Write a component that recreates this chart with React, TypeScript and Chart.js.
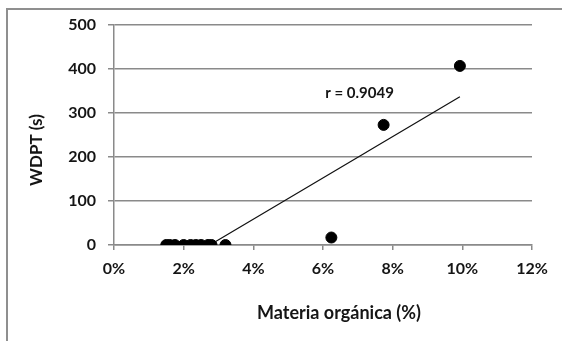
import React, { useEffect, useRef } from "react";
import { Chart, registerables } from "chart.js";

Chart.register(...registerables);

// Data
const organicMatter = [1.5, 1.6, 1.75, 2.0, 2.2, 2.35, 2.5, 2.7, 2.8, 3.2, 6.24, 7.74, 9.93];
const wdptValues = [0, 0, 0, 0, 0, 0, 0, 0, 0, 0, 17, 273, 407];
const trendX = [2.75, 9.93];
const trendY = [0, 337];
const xTickValues = [0, 2, 4, 6, 8, 10, 12];
const yTickValues = [0, 100, 200, 300, 400, 500];
const xTitle = "Materia orgánica (%)";
const yTitle = "WDPT (s)";
const rLabel = "r = 0.9049";
const rLabelAt = [7.05, 345];

const FONT = "Lato, 'Open Sans', sans-serif";
const TEXT = "#151515";
const GRID = "#8a8a8a";

const textPlugin = {
  id: "extraText",
  afterDraw(chart: any) {
    const { ctx, scales } = chart;
    const xs = scales.x;
    const ys = scales.y;
    ctx.save();
    ctx.fillStyle = TEXT;
    ctx.textAlign = "center";
    ctx.textBaseline = "middle";
    // r annotation
    ctx.font = `bold 15px ${FONT}`;
    ctx.fillText(rLabel, xs.getPixelForValue(rLabelAt[0]), ys.getPixelForValue(rLabelAt[1]));
    // x title
    ctx.font = `bold 18px ${FONT}`;
    ctx.fillText(xTitle, 339, 313);
    // y title
    ctx.font = `bold 17px ${FONT}`;
    ctx.translate(37, 150);
    ctx.rotate(-Math.PI / 2);
    ctx.fillText(yTitle, 0, 0);
    ctx.restore();
  },
};

export default function App() {
  const ref = useRef<HTMLCanvasElement | null>(null);

  useEffect(() => {
    if (!ref.current) return;
    const chart = new Chart(ref.current, {
      type: "scatter",
      data: {
        datasets: [
          {
            label: "WDPT",
            data: organicMatter.map((x, i) => ({ x, y: wdptValues[i] })),
            backgroundColor: "#000",
            borderColor: "#000",
            pointRadius: 5.5,
            pointHoverRadius: 5.5,
            order: 1,
          },
          {
            type: "line",
            label: "Tendencia",
            data: trendX.map((x, i) => ({ x, y: trendY[i] })),
            borderColor: "#111",
            borderWidth: 1.2,
            pointRadius: 0,
            showLine: true,
            fill: false,
            order: 2,
          } as any,
        ],
      },
      options: {
        animation: false,
        responsive: false,
        maintainAspectRatio: false,
        layout: { padding: { left: 0, right: 30, top: 25, bottom: 0 } },
        plugins: {
          legend: { display: false },
          tooltip: { enabled: false },
        },
        scales: {
          x: {
            type: "linear",
            min: 0,
            max: 12,
            afterFit(scale: any) {
              scale.height = 96;
            },
            afterBuildTicks(scale: any) {
              scale.ticks = xTickValues.map((v) => ({ value: v }));
            },
            ticks: {
              callback: (v: any) => `${v}%`,
              color: TEXT,
              font: { family: FONT, size: 16, weight: "bold" },
              padding: 9,
              maxRotation: 0,
            },
            grid: {
              drawOnChartArea: false,
              drawTicks: true,
              tickLength: 5,
              color: GRID,
              lineWidth: 1.5,
            },
            border: { display: true, color: GRID, width: 1.5 },
            title: { display: false },
          },
          y: {
            type: "linear",
            min: 0,
            max: 500,
            afterFit(scale: any) {
              scale.width = 114;
            },
            afterBuildTicks(scale: any) {
              scale.ticks = yTickValues.map((v) => ({ value: v }));
            },
            ticks: {
              color: TEXT,
              font: { family: FONT, size: 16, weight: "bold" },
              padding: 12,
            },
            grid: {
              drawOnChartArea: true,
              drawTicks: true,
              tickLength: 6,
              color: GRID,
              lineWidth: 1.5,
            },
            border: { display: true, color: GRID, width: 1.5 },
            title: { display: false },
          },
        },
      },
      plugins: [textPlugin],
    });
    return () => chart.destroy();
  }, []);

  return (
    <div style={{ position: "fixed", left: 0, top: 0, width: 562, height: 341, background: "#fff", overflow: "hidden" }}>
      <div
        style={{
          position: "absolute",
          left: 6,
          top: 8,
          width: 700,
          height: 500,
          borderLeft: "2px solid #8f8f8f",
          borderTop: "2px solid #8f8f8f",
        }}
      />
      <canvas ref={ref} width={562} height={341} style={{ position: "absolute", left: 0, top: 0, width: 562, height: 341 }} />
    </div>
  );
}
